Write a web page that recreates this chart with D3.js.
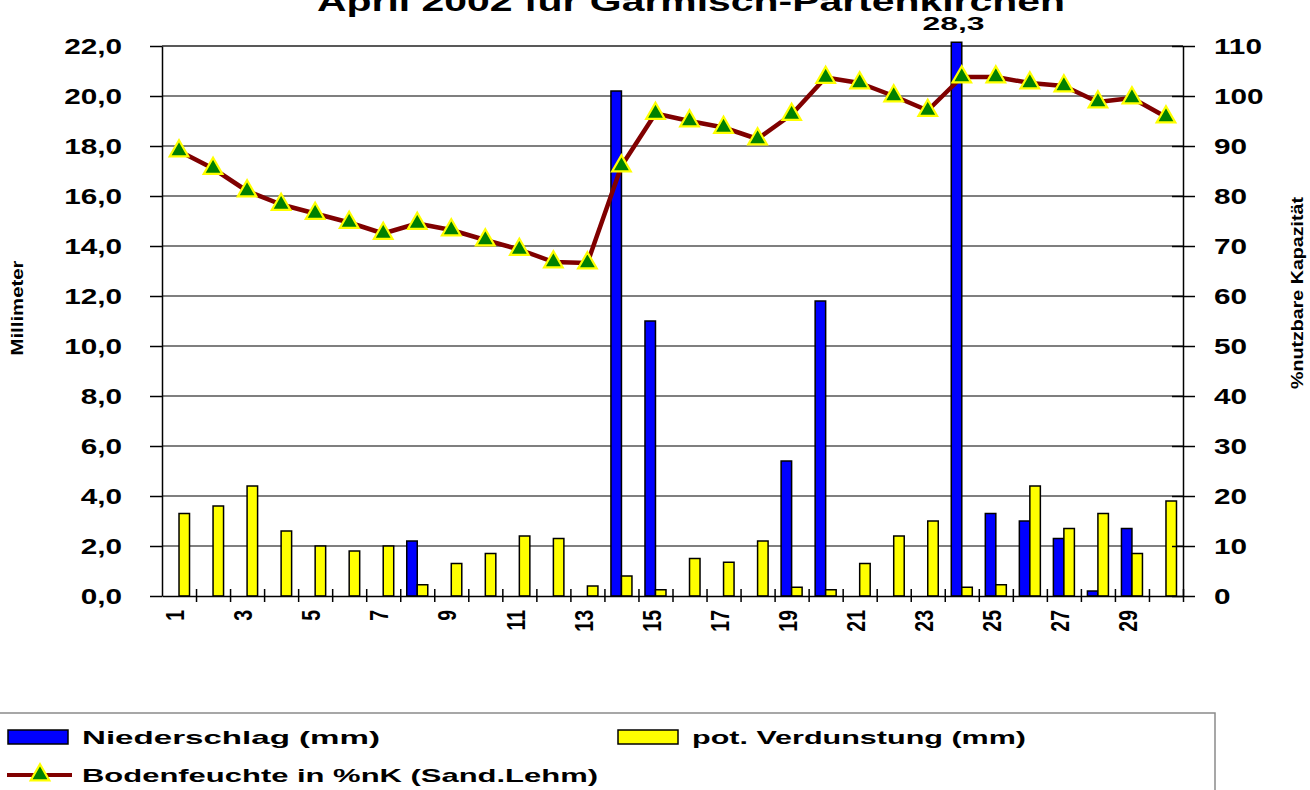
<!DOCTYPE html>
<html>
<head>
<meta charset="utf-8">
<script src="https://cdn.jsdelivr.net/npm/d3@7"></script>
<style>
  body { margin: 0; background: #fff; overflow: hidden; }
  svg text { font-family: "Liberation Sans", Arial, sans-serif; font-weight: bold; fill: #000; }
</style>
</head>
<body>
<svg id="chart" width="1310" height="790"></svg>
<script>
// ---- data ----
const days = [1,2,3,4,5,6,7,8,9,10,11,12,13,14,15,16,17,18,19,20,21,22,23,24,25,26,27,28,29,30];
const dayLabels = [1,3,5,7,9,11,13,15,17,19,21,23,25,27,29];
const niederschlag = [0,0,0,0,0,0,0,2.2,0,0,0,0,0,20.2,11.0,0,0,0,5.4,11.8,0,0,0,28.3,3.3,3.0,2.3,0.2,2.7,0];
const verdunstung  = [3.3,3.6,4.4,2.6,2.0,1.8,2.0,0.45,1.3,1.7,2.4,2.3,0.4,0.8,0.25,1.5,1.35,2.2,0.35,0.25,1.3,2.4,3.0,0.35,0.45,4.4,2.7,3.3,1.7,3.8];
const bodenfeuchte = [89,85.5,81,78.3,76.5,74.7,72.5,74.5,73.2,71.2,69.3,66.8,66.6,86,96.5,95,93.7,91.4,96.3,103.7,102.6,100,97.1,103.8,103.8,102.6,102,98.8,99.6,95.8];
const leftTicks  = [0,2,4,6,8,10,12,14,16,18,20,22];
const rightTicks = [0,10,20,30,40,50,60,70,80,90,100,110];
const seriesKeys = ["n","v"];

// ---- layout ----
const L = 162, R = 1183, T = 46, B = 596;
const SX = 1.35;          // Text im Original horizontal gestreckt
const C_BLUE = "#0000ff", C_YEL = "#ffff00", C_LINE = "#800000", C_TRI = "#008000";

const svg = d3.select("#chart");

const x0 = d3.scaleBand().domain(days).range([L, R]).padding(0);
const x1 = d3.scaleBand().domain(seriesKeys).range([0, x0.bandwidth()]).paddingInner(0).paddingOuter(0.62);
const xTick = d3.scaleLinear().domain([0, days.length]).range([L, R]);
const yL = d3.scaleLinear().domain([0, 22]).range([B, T]);
const yR = d3.scaleLinear().domain([0, 110]).range([B, T]);
const fmt1 = v => d3.format(".1f")(v).replace(".", ",");

// ---- title (oben abgeschnitten wie im Original) ----
svg.append("text")
  .attr("x", 691).attr("y", 11)
  .attr("text-anchor", "middle")
  .attr("textLength", 748).attr("lengthAdjust", "spacingAndGlyphs")
  .style("font-size", "27px")
  .text("April 2002 für Garmisch-Partenkirchen");

// ---- gridlines ----
svg.append("g")
  .selectAll("line")
  .data(leftTicks.filter(v => v > 0))
  .join("line")
  .attr("x1", L).attr("x2", R)
  .attr("y1", d => yL(d)).attr("y2", d => yL(d))
  .attr("stroke", d => d === 22 ? "#222" : "#555")
  .attr("stroke-width", 1.5);

// ---- bars ----
const barData = days.map((d, i) => ({ day: d, n: niederschlag[i], v: verdunstung[i] }));
const gBars = svg.append("g");
gBars.selectAll("g")
  .data(barData)
  .join("g")
  .attr("transform", d => `translate(${x0(d.day)},0)`)
  .selectAll("rect")
  .data(d => seriesKeys.map(k => ({ key: k, value: d[k] })).filter(e => e.value > 0))
  .join("rect")
  .attr("x", e => x1(e.key))
  .attr("width", x1.bandwidth())
  .attr("y", e => yL(Math.min(e.value, 22.15)))
  .attr("height", e => B - yL(Math.min(e.value, 22.15)))
  .attr("fill", e => e.key === "n" ? C_BLUE : C_YEL)
  .attr("stroke", "#000")
  .attr("stroke-width", 1.5);

// Wert über dem abgeschnittenen Balken
const maxDay = barData.find(d => d.n > 22);
svg.append("text")
  .attr("x", x0(maxDay.day) + x1("n") + x1.bandwidth() / 2 - 3)
  .attr("y", 30)
  .attr("text-anchor", "middle")
  .attr("textLength", 62).attr("lengthAdjust", "spacingAndGlyphs")
  .style("font-size", "18.5px")
  .text(fmt1(maxDay.n));

// ---- axes ----
const axL = svg.append("g").attr("transform", `translate(${L},0)`)
  .call(d3.axisLeft(yL).tickValues(leftTicks).tickFormat(fmt1).tickSizeInner(12).tickSizeOuter(0));
axL.select(".domain").attr("stroke", "#000").attr("stroke-width", 1.5);
axL.selectAll(".tick line").attr("stroke", "#000").attr("stroke-width", 1.5);
axL.selectAll(".tick text")
  .attr("x", 0).attr("dy", "0.36em")
  .attr("transform", `translate(-40,0) scale(${SX},1)`)
  .style("font-size", "22px");

const axR = svg.append("g").attr("transform", `translate(${R},0)`)
  .call(d3.axisRight(yR).tickValues(rightTicks).tickSizeInner(12).tickSizeOuter(0));
axR.select(".domain").attr("stroke", "#000").attr("stroke-width", 1.5);
axR.selectAll(".tick line").attr("x1", -11).attr("stroke", "#000").attr("stroke-width", 1.5);
axR.selectAll(".tick text")
  .attr("x", 0).attr("dy", "0.36em")
  .attr("transform", `translate(31,0) scale(${SX},1)`)
  .style("font-size", "22px");

// x-Achse: Striche an den Kategoriegrenzen
const axB = svg.append("g").attr("transform", `translate(0,${B})`)
  .call(d3.axisBottom(xTick).tickValues(d3.range(1, days.length + 1)).tickSizeInner(6).tickSizeOuter(0).tickFormat(""));
axB.select(".domain").attr("stroke", "#000").attr("stroke-width", 1.5);
axB.selectAll(".tick line").attr("y1", -7).attr("stroke", "#000").attr("stroke-width", 1.5);

const axBL = svg.append("g").attr("transform", `translate(0,${B})`)
  .call(d3.axisBottom(x0).tickValues(dayLabels).tickSize(0));
axBL.select(".domain").remove();
axBL.selectAll(".tick text")
  .attr("x", 0).attr("y", 0).attr("dy", "0.35em")
  .attr("text-anchor", "end")
  .attr("transform", `translate(-4,14) scale(${SX},1) rotate(-90)`)
  .style("font-size", "19.5px");

// ---- Bodenfeuchte-Linie ----
const pts = days.map((d, i) => [x0(d) + x0.bandwidth() / 2, yR(bodenfeuchte[i])]);
svg.append("path")
  .attr("d", d3.line()(pts))
  .attr("fill", "none")
  .attr("stroke", C_LINE)
  .attr("stroke-width", 4.5)
  .attr("stroke-linejoin", "round");

const tri = d3.symbol(d3.symbolTriangle, 150);
svg.append("g")
  .selectAll("path")
  .data(pts)
  .join("path")
  .attr("d", tri)
  .attr("transform", p => `translate(${p[0]},${p[1]})`)
  .attr("fill", C_TRI)
  .attr("stroke", C_YEL)
  .attr("stroke-width", 2.2);

// ---- Achsentitel ----
svg.append("text")
  .attr("transform", "translate(17,308) rotate(-90)")
  .attr("text-anchor", "middle").attr("dy", "0.35em")
  .attr("textLength", 95).attr("lengthAdjust", "spacingAndGlyphs")
  .style("font-size", "17px")
  .text("Millimeter");

svg.append("text")
  .attr("transform", "translate(1297,293) rotate(-90)")
  .attr("text-anchor", "middle").attr("dy", "0.35em")
  .attr("textLength", 192).attr("lengthAdjust", "spacingAndGlyphs")
  .style("font-size", "17px")
  .text("%nutzbare Kapazität");

// ---- Legende ----
const lg = svg.append("g");
lg.append("rect")
  .attr("x", -2).attr("y", 713).attr("width", 1217).attr("height", 90)
  .attr("fill", "#fff").attr("stroke", "#8a8a8a").attr("stroke-width", 1.5);

const legendItems = [
  { label: "Niederschlag (mm)", type: "bar", color: C_BLUE, x: 8, y: 730, tl: 298 },
  { label: "pot. Verdunstung (mm)", type: "bar", color: C_YEL, x: 618, y: 730, tl: 334 },
  { label: "Bodenfeuchte in %nK (Sand.Lehm)", type: "line", color: C_LINE, x: 8, y: 768, tl: 516 }
];
legendItems.forEach(it => {
  const g = lg.append("g").attr("transform", `translate(${it.x},${it.y})`);
  if (it.type === "bar") {
    g.append("rect").attr("x", 0).attr("y", 0).attr("width", 60).attr("height", 14)
      .attr("fill", it.color).attr("stroke", "#000").attr("stroke-width", 1.5);
  } else {
    g.append("line").attr("x1", -1).attr("x2", 64).attr("y1", 7).attr("y2", 7)
      .attr("stroke", it.color).attr("stroke-width", 4);
    g.append("path").attr("d", tri).attr("transform", "translate(32,7)")
      .attr("fill", C_TRI).attr("stroke", C_YEL).attr("stroke-width", 2.2);
  }
  g.append("text")
    .attr("x", 74).attr("y", 14)
    .attr("textLength", it.tl).attr("lengthAdjust", "spacingAndGlyphs")
    .style("font-size", "18.5px")
    .text(it.label);
});
</script>
</body>
</html>
